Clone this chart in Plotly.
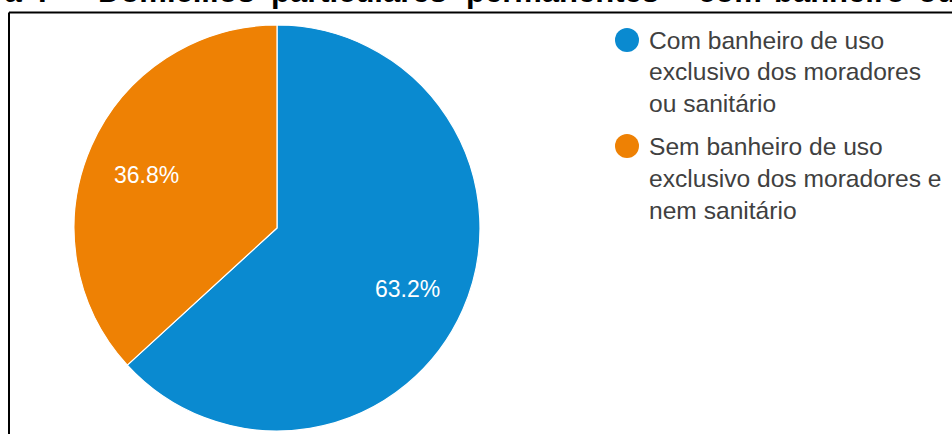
import math
import plotly.graph_objects as go

# Data
categories = [
    "Com banheiro de uso<br>exclusivo dos moradores<br>ou sanitário",
    "Sem banheiro de uso<br>exclusivo dos moradores e<br>nem sanitário",
]
shares = [63.2, 36.8]
slice_colors = ["#0A8AD0", "#EE8104"]

title_words = ["Figura", "I", "–", "Domicílios", "particulares", "permanentes",
               "–", "com", "banheiro", "ou"]

# Layout geometry (pixels)
W, H = 952, 434
CX, CY, R = 277, 228, 203
LABEL_R = 0.70
LABEL_DY = 4
title_x = [23, 37, 62, 97, 270, 465, 668, 697, 773, 917]
title_anchor = ["right"] + ["left"] * 9
TITLE_TOP = -27.5
LEG_DOT_X, LEG_TEXT_X = 627, 647
LEG_FIRST_Y, LEG_LINE, LEG_ENTRY = 40, 32, 106
FONT = "Liberation Sans, Arial, sans-serif"


def px(x):
    return x / W


def py(y):
    return 1 - y / H


fig = go.Figure(
    go.Pie(
        labels=[c.replace("<br>", " ") for c in categories],
        values=shares,
        marker=dict(colors=slice_colors, line=dict(color="white", width=1.2)),
        sort=False,
        direction="clockwise",
        rotation=0,
        textinfo="none",
        hoverinfo="label+percent",
        showlegend=False,
        domain=dict(x=[px(CX - R), px(CX + R)], y=[py(CY + R), py(CY - R)]),
    )
)

annotations = []
shapes = []

# Percentage labels placed on each slice's bisector
total = sum(shares)
start = 0.0
for v in shares:
    mid = (start + v / 2) / total * 2 * math.pi
    lx = CX + LABEL_R * R * math.sin(mid)
    ly = CY - LABEL_R * R * math.cos(mid) + LABEL_DY
    annotations.append(dict(
        x=px(lx), y=py(ly), xref="paper", yref="paper",
        text=f"{v / total * 100:.1f}%", showarrow=False,
        xanchor="center", yanchor="middle",
        font=dict(family=FONT, size=23, color="white"),
    ))
    start += v

# Legend: coloured dots with wrapped category text
for i, (name, col) in enumerate(zip(categories, slice_colors)):
    y0 = LEG_FIRST_Y + i * LEG_ENTRY
    shapes.append(dict(
        type="circle", xref="paper", yref="paper",
        x0=px(LEG_DOT_X - 12), x1=px(LEG_DOT_X + 12),
        y0=py(y0 + 12), y1=py(y0 - 12),
        fillcolor=col, line=dict(width=0),
    ))
    for j, line in enumerate(name.split("<br>")):
        annotations.append(dict(
            x=px(LEG_TEXT_X), y=py(y0 + j * LEG_LINE), xref="paper", yref="paper",
            text=line, showarrow=False, xanchor="left", yanchor="middle",
            font=dict(family=FONT, size=24.6, color="#404040"),
        ))

# Caption heading running along the top edge
for word, x, anc in zip(title_words, title_x, title_anchor):
    annotations.append(dict(
        x=px(x), y=py(TITLE_TOP), xref="paper", yref="paper",
        text=f"<b>{word}</b>", showarrow=False, xanchor=anc, yanchor="top",
        borderpad=0,
        font=dict(family=FONT, size=31, color="black"),
    ))

# Frame lines
shapes.append(dict(type="line", xref="paper", yref="paper",
                   x0=px(9), x1=px(W + 5), y0=py(12.5), y1=py(12.5),
                   line=dict(color="black", width=2)))
shapes.append(dict(type="line", xref="paper", yref="paper",
                   x0=px(9), x1=px(9), y0=py(12.5), y1=py(H + 5),
                   line=dict(color="black", width=2)))

fig.update_layout(
    width=W, height=H,
    margin=dict(l=0, r=0, t=0, b=0),
    paper_bgcolor="white", plot_bgcolor="white",
    annotations=annotations, shapes=shapes,
    showlegend=False,
)

fig.write_html("out.html")
